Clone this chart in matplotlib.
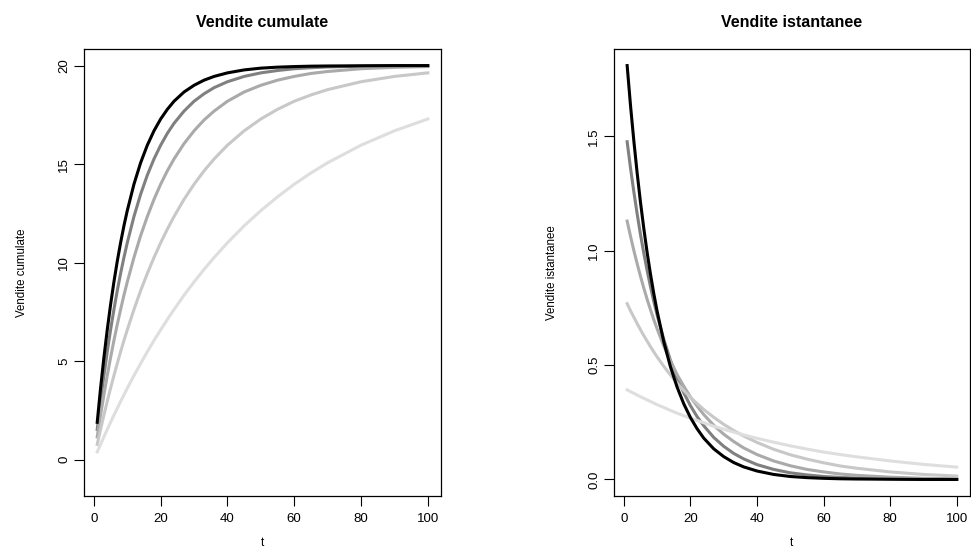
import numpy as np
import matplotlib
matplotlib.use("Agg")
from matplotlib import pyplot as plt

# time points
t = [1, 2, 3, 4, 5, 6, 7, 8, 9, 10, 12, 14, 16, 18, 20, 22, 24, 27, 30, 33, 36,
     40, 45, 50, 55, 60, 65, 70, 80, 90, 100]

# cumulative sales, one list per curve (darkest first)
cum_1 = [1.90, 3.63, 5.18, 6.59, 7.87, 9.02, 10.07, 11.01, 11.87, 12.64, 13.98, 15.07, 15.96, 16.69, 17.29, 17.78,
         18.19, 18.66, 19.00, 19.26, 19.45, 19.63, 19.78, 19.87, 19.92, 19.95, 19.97, 19.98, 19.99, 20.00, 20.00]
cum_2 = [1.54, 2.96, 4.27, 5.48, 6.59, 7.62, 8.58, 9.45, 10.26, 11.01, 12.34, 13.47, 14.44, 15.26, 15.96, 16.56,
         17.07, 17.69, 18.19, 18.57, 18.88, 19.18, 19.45, 19.63, 19.75, 19.84, 19.89, 19.93, 19.97, 19.99, 19.99]
cum_3 = [1.16, 2.26, 3.29, 4.27, 5.18, 6.05, 6.86, 7.62, 8.35, 9.02, 10.26, 11.37, 12.34, 13.21, 13.98, 14.66,
         15.26, 16.04, 16.69, 17.24, 17.69, 18.19, 18.66, 19.00, 19.26, 19.45, 19.60, 19.70, 19.84, 19.91, 19.95]
cum_4 = [0.78, 1.54, 2.26, 2.96, 3.63, 4.27, 4.88, 5.48, 6.05, 6.59, 7.62, 8.58, 9.45, 10.26, 11.01, 11.70,
         12.34, 13.21, 13.98, 14.66, 15.26, 15.96, 16.69, 17.29, 17.78, 18.19, 18.51, 18.78, 19.18, 19.45, 19.63]
cum_5 = [0.40, 0.78, 1.16, 1.54, 1.90, 2.26, 2.61, 2.96, 3.29, 3.63, 4.27, 4.88, 5.48, 6.05, 6.59, 7.12,
         7.62, 8.35, 9.02, 9.66, 10.26, 11.01, 11.87, 12.64, 13.34, 13.98, 14.55, 15.07, 15.96, 16.69, 17.29]

# instantaneous sales
ist_1 = [1.810, 1.637, 1.482, 1.341, 1.213, 1.098, 0.993, 0.899, 0.813, 0.736, 0.602, 0.493, 0.404, 0.331, 0.271,
         0.222, 0.181, 0.134, 0.100, 0.074, 0.055, 0.037, 0.022, 0.013, 0.008, 0.005, 0.003, 0.002, 0.001, 0.000, 0.000]
ist_2 = [1.477, 1.363, 1.259, 1.162, 1.072, 0.990, 0.914, 0.844, 0.779, 0.719, 0.613, 0.522, 0.445, 0.379, 0.323,
         0.275, 0.235, 0.184, 0.145, 0.114, 0.090, 0.065, 0.044, 0.029, 0.020, 0.013, 0.009, 0.006, 0.003, 0.001, 0.000]
ist_3 = [1.130, 1.064, 1.002, 0.944, 0.889, 0.837, 0.788, 0.743, 0.699, 0.659, 0.584, 0.518, 0.459, 0.408, 0.361,
         0.321, 0.284, 0.237, 0.198, 0.166, 0.138, 0.109, 0.081, 0.060, 0.044, 0.033, 0.024, 0.018, 0.010, 0.005, 0.003]
ist_4 = [0.769, 0.738, 0.710, 0.682, 0.655, 0.629, 0.605, 0.581, 0.558, 0.536, 0.495, 0.457, 0.422, 0.389, 0.359,
         0.332, 0.306, 0.272, 0.241, 0.214, 0.190, 0.162, 0.132, 0.108, 0.089, 0.073, 0.059, 0.049, 0.033, 0.022, 0.015]
ist_5 = [0.392, 0.384, 0.377, 0.369, 0.362, 0.355, 0.348, 0.341, 0.334, 0.327, 0.315, 0.302, 0.290, 0.279, 0.268,
         0.258, 0.248, 0.233, 0.220, 0.207, 0.195, 0.180, 0.163, 0.147, 0.133, 0.120, 0.109, 0.099, 0.081, 0.066, 0.054]

colors = ["#000000", "#808080", "#aaaaaa", "#c8c8c8", "#dedede"]

plt.rcParams['font.family'] = ['Liberation Sans', 'DejaVu Sans']


def r_axes(ax, ylim, yticks, yticklabels, title, ylabel):
    # R style: 4% padding around the data range, ticks outside
    x0, x1 = 1, 100
    pad = 0.04 * (x1 - x0)
    ax.set_xlim(x0 - pad, x1 + pad)
    pad = 0.04 * (ylim[1] - ylim[0])
    ax.set_ylim(ylim[0] - pad, ylim[1] + pad)
    ax.set_xticks([0, 20, 40, 60, 80, 100])
    ax.set_yticks(yticks)
    ax.set_yticklabels(yticklabels, rotation=90, va='center')
    ax.tick_params(direction='out', length=7, width=0.8, labelsize=9.5, pad=5)
    ax.tick_params(axis='y', pad=3)
    for s in ax.spines.values():
        s.set_linewidth(0.9)
    ax.set_title(title, fontsize=11.5, fontweight='bold', pad=16)
    ax.set_xlabel("t", fontsize=8.5, labelpad=9)
    ax.set_ylabel(ylabel, fontsize=8.3, labelpad=22)


fig = plt.figure(figsize=(9.71, 5.49), dpi=100)
ax1 = fig.add_axes([0.0865, 0.0965, 0.3677, 0.8142])
ax2 = fig.add_axes([0.6323, 0.0965, 0.3666, 0.8142])

for ys, c in zip([cum_1, cum_2, cum_3, cum_4, cum_5], colors):
    ax1.plot(t, ys, color=c, lw=2.2, zorder=3 if c == "#000000" else 2)
for ys, c in zip([ist_1, ist_2, ist_3, ist_4, ist_5], colors):
    ax2.plot(t, ys, color=c, lw=2.2, zorder=3 if c == "#000000" else 2)

r_axes(ax1, (-1, 20), [0, 5, 10, 15, 20], ["0", "5", "10", "15", "20"],
       "Vendite cumulate", "Vendite cumulate")
r_axes(ax2, (0, 1.81), [0.0, 0.5, 1.0, 1.5], ["0.0", "0.5", "1.0", "1.5"],
       "Vendite istantanee", "Vendite istantanee")

fig.savefig("out.png", dpi=100)
